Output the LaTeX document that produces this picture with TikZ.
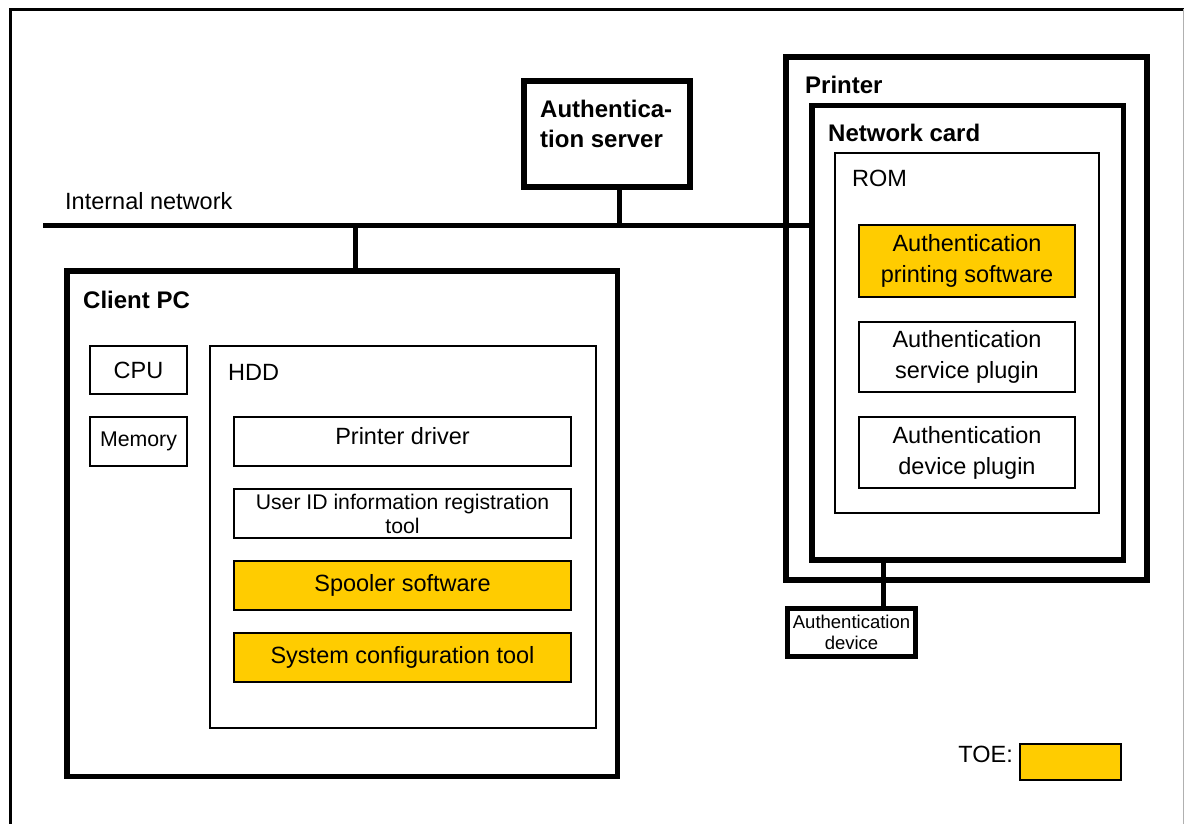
\documentclass[tikz,border=0pt]{standalone}
\usepackage{fontspec}
\setmainfont{Liberation Sans}
\definecolor{toe}{HTML}{FFCC00}
\definecolor{framegray}{HTML}{B0B0B0}
\newcommand\mybox[7]{\node[#1, minimum width={(#5)-(#3)}, minimum height={(#6)-(#4)}] (#2) at ({((#3)+(#5))/2},{((#4)+(#6))/2}) {#7};}
\begin{document}
\begin{tikzpicture}[x=1pt,y=-1pt,
  thickbox/.style={draw, line width=5.5pt, inner sep=0pt, outer sep=0pt, rectangle},
  thinbox/.style={draw, line width=2pt, inner sep=0pt, outer sep=0pt, rectangle, align=center, font=\fontsize{23.5}{31}\selectfont},
  toebox/.style={thinbox, fill=toe},
  wire/.style={line width=5pt},
  txt/.style={font=\fontsize{23.5}{31}\selectfont, inner sep=0pt, anchor=base west},
  head/.style={font=\fontsize{24}{30}\selectfont\bfseries, inner sep=0pt, anchor=base west},
]
\useasboundingbox (0,0) rectangle (1184,823);
% outer frame
\draw[line width=3pt] (10,830) -- (10,9) -- (1186,9);
\draw[framegray, line width=1pt] (1183,9) -- (1183,830);

% network
\coordinate (netL) at (43,225);
\node[txt] (netlbl) at (65,209) {Internal network};

% authentication server
\mybox{thickbox}{srv}{524}{81}{690}{187}{}
\node[font=\fontsize{24}{30}\selectfont\bfseries, inner sep=0pt, anchor=north west, align=left] (srvlbl) at (540,100) {Authentica-\\tion server};

% printer
\mybox{thickbox}{prn}{786}{57}{1147}{580}{}
\node[head] (prnlbl) at (805,93) {Printer};
\mybox{thickbox}{nc}{812}{105.5}{1123.5}{560}{}
\node[head] (nclbl) at (828,141) {Network card};
\mybox{thinbox}{rom}{835}{153}{1099}{513}{}
\node[txt] (romlbl) at (852,186) {ROM};
\mybox{toebox}{aps}{859}{225}{1075}{297}{Authentication\\printing software}
\mybox{thinbox}{asp}{859}{322}{1075}{392}{Authentication\\service plugin}
\mybox{thinbox}{adp}{859}{417}{1075}{488}{Authentication\\device plugin}

% authentication device
\mybox{thickbox}{dev}{787.5}{608.5}{915.5}{656.5}{}
\node[font=\fontsize{18.5}{21}\selectfont, align=center, inner sep=0pt] (devlbl) at (dev.center) {Authentication\\device};

% client PC
\mybox{thickbox}{pc}{67}{271}{617.5}{776.5}{}
\node[head] (pclbl) at (83,308) {Client PC};
\mybox{thinbox}{cpu}{90}{346}{187}{394}{CPU}
\mybox{thinbox, font=\fontsize{21.3}{26}\selectfont}{mem}{90}{417}{187}{466}{Memory}
\mybox{thinbox}{hdd}{210}{346}{596}{728}{}
\node[txt] (hddlbl) at (228,380) {HDD};
\mybox{thinbox, text height=17pt, text depth=12pt}{drv}{234}{417}{571}{466}{Printer driver}
\mybox{thinbox, font=\fontsize{21.2}{24}\selectfont}{uid}{234}{489}{571}{538}{User ID information registration\\tool}
\mybox{toebox}{spl}{234}{561}{571}{610}{Spooler software}
\mybox{toebox}{sct}{234}{633}{571}{682}{System configuration tool}

% legend
\node[font=\fontsize{23.5}{31}\selectfont, inner sep=0pt, anchor=base east] (toelbl) at (1013,762) {TOE:};
\mybox{thinbox, fill=toe, line width=2.5pt}{toe}{1020}{744}{1121}{780}{}

% connectors
\draw[wire] (netL) -- (netL -| nc.west);
\coordinate (srvx) at (619,0);
\draw[wire] (srv.south -| srvx) -- (netL -| srvx);
\coordinate (pcx) at (355,0);
\draw[wire] (netL -| pcx) -- (pc.north -| pcx);
\coordinate (devx) at (883.5,0);
\draw[wire] (nc.south -| devx) -- (dev.north -| devx);
\end{tikzpicture}
\end{document}
